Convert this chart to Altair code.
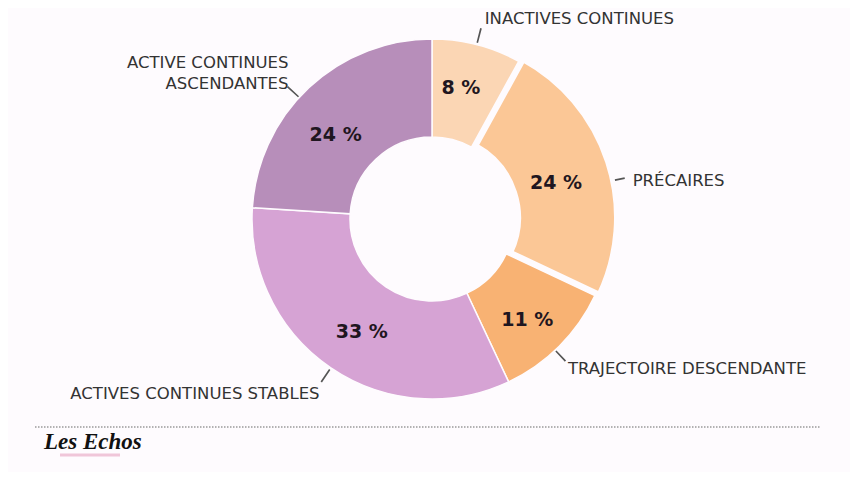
import math
import altair as alt
import pandas as pd

# ---- data ----
categories = ["INACTIVES CONTINUES", "PRÉCAIRES", "TRAJECTOIRE DESCENDANTE",
              "ACTIVES CONTINUES STABLES", "ACTIVE CONTINUES ASCENDANTES"]
values = [8, 24, 11, 33, 24]
pct_labels = ["8 %", "24 %", "11 %", "33 %", "24 %"]
name_labels = ["INACTIVES CONTINUES", "PRÉCAIRES", "TRAJECTOIRE DESCENDANTE",
               "ACTIVES CONTINUES STABLES", "ACTIVE CONTINUES\nASCENDANTES"]
colors = ["#FBD6B4", "#FBC796", "#F8B273", "#D6A3D4", "#B78EBA"]
exploded = "PRÉCAIRES"

df = pd.DataFrame({
    "idx": list(range(len(categories))),
    "cat": categories,
    "value": values,
    "pct": pct_labels,
    "name": name_labels,
})

# ---- styling (offsets only) ----
CX, CY = 424, 211          # donut centre in plot pixels
EXP_DX, EXP_DY = 4.5, -1.5  # explode offset of the highlighted slice
styles = [
    dict(lead=0.0, r0=182, r1=197, align="left", ndx=3, ndy=-6, pdx=-4, pdy=-3),
    dict(lead=1.67, r0=187, r1=197, align="left", ndx=5, ndy=4, pdx=-6, pdy=6),
    dict(lead=0.5, r0=181, r1=195, align="left", ndx=-1, ndy=4, pdx=2, pdy=8),
    dict(lead=0.0, r0=182, r1=197, align="right", ndx=0, ndy=10, pdx=4, pdy=4),
    dict(lead=-1.2, r0=181, r1=196, align="right", ndx=4, ndy=-21, pdx=-6, pdy=12),
]

th_scale = alt.Scale(domain=[0, 100], range=[0, 2 * math.pi])
col_scale = alt.Scale(domain=categories, range=colors)

base = alt.Chart(df).transform_window(
    cum="sum(value)", sort=[alt.SortField("idx")], frame=[None, 0]
).transform_calculate(
    start="datum.cum - datum.value",
    mid="datum.cum - datum.value / 2",
)

layers = []

# main slices
layers.append(
    base.transform_filter(f"datum.cat != '{exploded}'")
    .mark_arc(innerRadius=82, outerRadius=180, stroke="#FEFBFE", strokeWidth=1.5)
    .encode(
        theta=alt.Theta("start:Q", scale=th_scale, stack=None),
        theta2="cum:Q",
        color=alt.Color("cat:N", scale=col_scale, legend=None),
        x=alt.value(CX), y=alt.value(CY),
    )
)
# exploded slice
layers.append(
    base.transform_filter(f"datum.cat == '{exploded}'")
    .mark_arc(innerRadius=82, outerRadius=180, stroke="#FEFBFE", strokeWidth=5)
    .encode(
        theta=alt.Theta("start:Q", scale=th_scale, stack=None),
        theta2="cum:Q",
        color=alt.Color("cat:N", scale=col_scale, legend=None),
        x=alt.value(CX + EXP_DX), y=alt.value(CY + EXP_DY),
    )
)

for cat, st in zip(categories, styles):
    sub = base.transform_filter(f"datum.cat == '{cat}'").transform_calculate(
        la="datum.mid + (%f)" % st["lead"],
        a0="datum.mid + (%f) - 0.07" % st["lead"],
        a1="datum.mid + (%f) + 0.07" % st["lead"],
    )
    ox = EXP_DX if cat == exploded else 0
    oy = EXP_DY if cat == exploded else 0
    # leader line
    layers.append(
        sub.mark_arc(innerRadius=st["r0"], outerRadius=st["r1"], color="#555555")
        .encode(
            theta=alt.Theta("a0:Q", scale=th_scale, stack=None),
            theta2="a1:Q",
            x=alt.value(CX), y=alt.value(CY),
        )
    )
    # category name
    layers.append(
        sub.mark_text(radius=200, align=st["align"], baseline="middle",
                      dx=st["ndx"], dy=st["ndy"], lineBreak="\n", lineHeight=21,
                      font="DejaVu Sans", fontSize=16.5, color="#333333")
        .encode(
            theta=alt.Theta("la:Q", scale=th_scale, stack=None),
            text="name:N",
            x=alt.value(CX), y=alt.value(CY),
        )
    )
    # percentage
    layers.append(
        sub.mark_text(radius=132, align="center", baseline="middle",
                      dx=st["pdx"], dy=st["pdy"],
                      font="DejaVu Sans", fontWeight="bold", fontSize=19, color="#1F1620")
        .encode(
            theta=alt.Theta("mid:Q", scale=th_scale, stack=None),
            text="pct:N",
            x=alt.value(CX + ox), y=alt.value(CY + oy),
        )
    )

one = alt.Chart(pd.DataFrame({"k": [0]}))
# dotted separator
layers.append(
    one.mark_rule(color="#9A9A9A", strokeWidth=1.5, strokeDash=[1.5, 1.5])
    .encode(x=alt.value(27), x2=alt.value(813), y=alt.value(419))
)
# logo
layers.append(
    one.mark_rule(color="#F0C6D9", strokeWidth=3)
    .encode(x=alt.value(52), x2=alt.value(112), y=alt.value(447))
)
layers.append(
    one.mark_text(text="Les Echos", font="Liberation Serif", fontSize=23,
                  fontWeight="bold", fontStyle="italic",
                  align="left", baseline="alphabetic", color="#111111")
    .encode(x=alt.value(36), y=alt.value(441))
)

chart = alt.layer(*layers).properties(
    width=842, height=464,
    autosize=alt.AutoSizeParams(type="fit", contains="padding"),
    padding=0,
    background="#FEFBFE",
).configure_view(stroke=None)

chart.save("out.html", embed_options={"renderer": "svg", "actions": False})
